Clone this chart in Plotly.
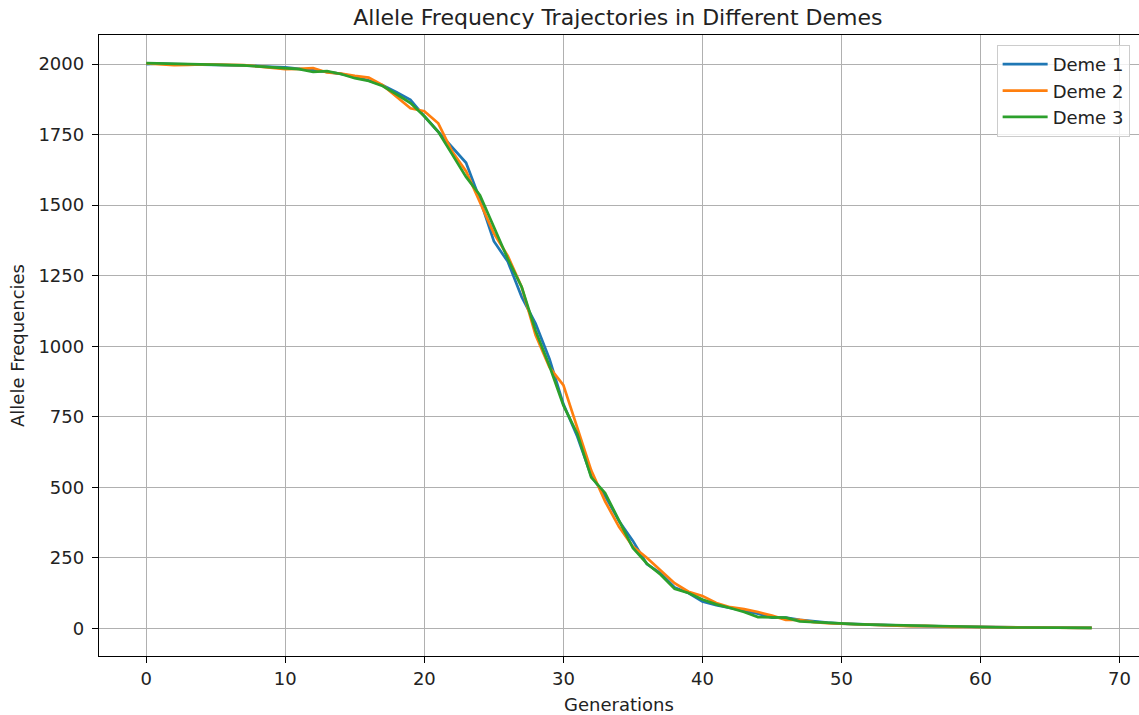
import plotly.graph_objects as go

generations = list(range(69))

deme1 = [2000, 2002, 2000, 1998, 1998, 1997, 1996, 1995, 1993, 1990,
         1988, 1983, 1978, 1972, 1965, 1955, 1942, 1925, 1900, 1873,
         1815, 1760, 1705, 1650, 1520, 1372, 1300, 1175, 1080, 955,
         795, 680, 540, 470, 380, 310, 228, 195, 145, 125,
         95, 82, 72, 62, 52, 38, 38, 30, 24, 20,
         17, 15, 13, 12, 10, 9, 8, 7, 6, 5,
         5, 4, 4, 3, 3, 3, 3, 2, 2]

deme2 = [2002, 2000, 1996, 1997, 1999, 1998, 1998, 1996, 1992, 1986,
         1982, 1983, 1986, 1970, 1966, 1958, 1952, 1925, 1885, 1843,
         1833, 1790, 1690, 1620, 1510, 1400, 1320, 1210, 1040, 925,
         862, 715, 560, 450, 360, 290, 250, 205, 160, 130,
         115, 90, 75, 68, 58, 45, 30, 30, 22, 18,
         16, 14, 12, 11, 10, 8, 9, 6, 5, 5,
         4, 4, 3, 3, 3, 2, 2, 2, 2]

deme3 = [2003, 2002, 2000, 1999, 1998, 1997, 1997, 1995, 1992, 1988,
         1986, 1982, 1972, 1975, 1965, 1950, 1940, 1922, 1893, 1862,
         1815, 1760, 1680, 1600, 1535, 1420, 1310, 1210, 1055, 930,
         790, 690, 535, 480, 380, 285, 230, 190, 140, 125,
         102, 85, 72, 58, 40, 38, 38, 25, 22, 20,
         17, 15, 13, 12, 10, 9, 8, 6, 6, 5,
         4, 4, 3, 3, 3, 3, 2, 2, 2]

series = [("Deme 1", deme1, "#1f77b4"),
          ("Deme 2", deme2, "#ff7f0e"),
          ("Deme 3", deme3, "#2ca02c")]

x_ticks = [0, 10, 20, 30, 40, 50, 60, 70]
y_ticks = [0, 250, 500, 750, 1000, 1250, 1500, 1750, 2000]

fig = go.Figure()
for name, vals, color in series:
    fig.add_trace(go.Scatter(x=generations, y=vals, mode="lines", name=name,
                             line=dict(color=color, width=2.7)))

font = "DejaVu Sans, Arial, sans-serif"
axis_common = dict(showgrid=True, gridcolor="#b0b0b0", gridwidth=1.4,
                   zeroline=False, showline=True, linecolor="black", linewidth=1.4,
                   mirror=True, ticks="outside", ticklen=6, tickwidth=1.4,
                   tickcolor="black",
                   tickfont=dict(family=font, size=18, color="#222222"))

fig.update_layout(
    width=1139, height=715,
    margin=dict(l=99, r=0, t=35, b=59),
    paper_bgcolor="white", plot_bgcolor="white",
    font=dict(family=font, size=18, color="#222222"),
    title=dict(text="Allele Frequency Trajectories in Different Demes",
               x=0.5425, xanchor="center", y=0.976, yanchor="middle",
               font=dict(family=font, size=22, color="#222222")),
    xaxis=dict(range=[-3.4, 71.4], tickvals=x_ticks,
               title=dict(text="Generations", standoff=10,
                          font=dict(family=font, size=18)),
               **axis_common),
    yaxis=dict(range=[-98, 2103], tickvals=y_ticks, ticklabelstandoff=4,
               title=dict(text="Allele Frequencies", standoff=9,
                          font=dict(family=font, size=18)),
               **axis_common),
    legend=dict(x=0.991, xanchor="right", y=0.984, yanchor="top",
                bgcolor="rgba(255,255,255,0.8)", bordercolor="#cccccc",
                borderwidth=1, itemwidth=45, font=dict(family=font, size=18)),
    showlegend=True,
)

fig.write_html("out.html", config={"displayModeBar": False},
               post_script="document.body.style.margin='0';document.body.style.overflow='hidden';")
